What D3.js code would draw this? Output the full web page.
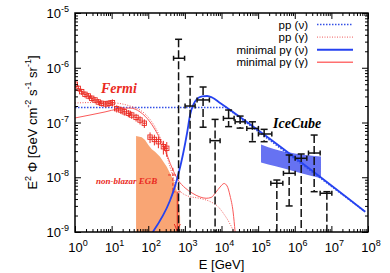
<!DOCTYPE html>
<html>
<head>
<meta charset="utf-8">
<script src="https://cdn.jsdelivr.net/npm/d3@7"></script>
<style>
  body { margin: 0; background: #fff; }
  svg { display: block; font-family: "Liberation Sans", Arial, sans-serif; }
  .serif { font-family: "Liberation Serif", "Times New Roman", serif; font-style: italic; font-weight: bold; }
</style>
</head>
<body>
<svg id="chart" width="390" height="273"></svg>
<script>
// Fermi IGRB points (GeV, GeV cm^-2 s^-1 sr^-1)
const fermiE = [1.02, 1.23, 1.52, 1.87, 2.31, 2.86, 3.52, 4.34, 5.37, 6.9, 8.49, 10.5, 13.8, 17.8, 22.2, 28.6, 35.4, 46.5, 59.7, 78.2, 112, 147, 189, 259, 320];
const fermiF = [5.0e-7, 4.2e-7, 3.66e-7, 3.27e-7, 3.05e-7, 2.77e-7, 2.58e-7, 2.37e-7, 2.24e-7, 2.18e-7, 2.24e-7, 2.3e-7, 1.79e-7, 1.69e-7, 1.57e-7, 1.47e-7, 1.37e-7, 1.24e-7, 1.11e-7, 9.7e-8, 5.4e-8, 4.9e-8, 4.46e-8, 3.61e-8, 3.38e-8];
const fermiErr = [0.14, 0.13, 0.13, 0.13, 0.13, 0.13, 0.13, 0.13, 0.13, 0.14, 0.15, 0.15, 0.15, 0.15, 0.15, 0.15, 0.15, 0.16, 0.17, 0.18, 0.22, 0.22, 0.24, 0.28, 0.3];
// last Fermi bins drawn dashed (point + upper limit)
const fermiDashE = [470, 620];
const fermiDashF = [1.1e-8, 5.4e-9];

// non-blazar EGB band (upper edge)
const egbE = [46.5, 66.4, 81.8, 100.7, 124.7, 153.5, 210, 259, 320, 394, 485, 575, 664, 740, 740];
const egbF = [5.66e-8, 5.37e-8, 4.79e-8, 3.88e-8, 3.24e-8, 2.93e-8, 2.37e-8, 1.92e-8, 1.56e-8, 1.18e-8, 8.9e-9, 6.28e-9, 4.42e-9, 1.9e-9, 1e-9];

// model curves
const ppNuE = [1, 13400, 8.37e7];
const ppNuF = [1.88e-7, 1.88e-7, 2.35e-9];
const ppGamE = [1, 3.52, 12.4, 31.8, 59.7, 98.9, 153, 210, 288, 394, 540, 740, 1148, 2600, 4887, 8072, 11780, 16140, 20750, 22900];
const ppGamF = [2.27e-7, 2.32e-7, 2.27e-7, 2.0e-7, 1.69e-7, 1.26e-7, 8.3e-8, 5.4e-8, 3.15e-8, 1.54e-8, 7.85e-9, 5.6e-9, 4.6e-9, 4.1e-9, 3.6e-9, 2.9e-9, 2.1e-9, 1.5e-9, 1.04e-9, 8e-10];
const pgNuE = [133, 1148, 1387, 1675, 2153, 2951, 4046, 5534, 9162, 8.37e7];
const pgNuF = [1e-9, 6.43e-8, 1.37e-7, 2.09e-7, 2.69e-7, 2.99e-7, 3.05e-7, 2.86e-7, 2.27e-7, 2.35e-9];
const pgGamE = [1, 2.57, 6.61, 15.0, 31.8, 59.7, 112, 185, 288, 447, 652, 1012, 1574, 2600, 3793, 5200, 7112, 9162, 11780, 14220, 17180, 20750, 23550];
const pgGamF = [1.21e-7, 1.37e-7, 1.56e-7, 1.77e-7, 1.84e-7, 1.56e-7, 1.02e-7, 5.9e-8, 3.15e-8, 1.48e-8, 8.9e-9, 6.4e-9, 5.15e-9, 4.36e-9, 4.13e-9, 4.27e-9, 5.38e-9, 6.64e-9, 7.69e-9, 6.92e-9, 4.55e-9, 2.32e-9, 1e-9];

// IceCube best-fit band
const bandE = [1.2e5, 3e5, 1e6, 5.2e6];
const bandHi = [3.96e-8, 3.2e-8, 2.72e-8, 2.39e-8];
const bandLo = [1.86e-8, 1.58e-8, 1.28e-8, 9.6e-9];

// IceCube points; Flo = 0 means the bar runs to the bottom
const icE   = [673, 1387, 3142, 6680, 15630, 32220, 69850, 145900, 324300, 703000, 1.5e6, 3.39e6, 7.53e6];
const icElo = [491, 1012, 2153, 4886, 11270, 23550, 49100, 101900, 222300, 491000, 1.026e6, 2.37e6, 4.94e6];
const icEhi = [982, 1900, 4670, 9160, 22090, 44160, 101900, 236600, 473000, 1.026e6, 2.14e6, 4.94e6, 1.03e7];
const icF   = [1.49e-6, 2.0e-7, 2.58e-7, 4.66e-8, 1.19e-7, 1.03e-7, 7.8e-8, 6.17e-8, 7.76e-9, 1.18e-8, 2.22e-8, 2.77e-8, 5.1e-9];
const icFhi = [3.31e-6, 6.87e-7, 4.45e-7, 1.14e-7, 1.69e-7, 1.31e-7, 1.03e-7, 7.5e-8, 8.9e-9, 2.55e-8, 2.66e-8, 5.9e-8, 5.45e-9];
const icFlo = [0, 0, 8.2e-8, 0, 8.4e-8, 7.9e-8, 4.46e-8, 4.46e-8, 0, 2.99e-9, 0, 5.45e-9, 0];

const xTickExp = [0, 1, 2, 3, 4, 5, 6, 7, 8];
const yTickExp = [-9, -8, -7, -6, -5];

const legendItems = [
  {label: 'pp (ν)', color: '#3450e6', dash: '1.5,1.5', width: 1.5},
  {label: 'pp (γ)', color: '#f05a5a', dash: '1,1.5', width: 1},
  {label: 'minimal pγ (ν)', color: '#2542f0', dash: null, width: 2},
  {label: 'minimal pγ (γ)', color: '#ff7070', dash: null, width: 1.5}
];

const svg = d3.select('#chart'),
      W = +svg.attr('width'),
      H = +svg.attr('height'),
      margin = {top: 13, right: 22, bottom: 41, left: 75};

const x = d3.scaleLog().domain([1, 1e8]).range([margin.left, W - margin.right]);
const y = d3.scaleLog().domain([1e-9, 1e-5]).range([H - margin.bottom, margin.top]);
const x0 = x.range()[0], x1 = x.range()[1], yb = y.range()[0], yt = y.range()[1];

svg.append('defs').append('clipPath').attr('id', 'plot')
  .append('rect').attr('x', x0).attr('y', yt).attr('width', x1 - x0).attr('height', yb - yt);

const plot = svg.append('g').attr('clip-path', 'url(#plot)');
const zip = (a, b) => a.map((v, i) => [v, b[i]]);

// EGB band
plot.append('path')
  .datum(zip(egbE, egbF))
  .attr('fill', '#f9a574')
  .attr('d', d3.area().x(d => x(d[0])).y0(yb).y1(d => y(d[1])));

// IceCube band
plot.append('path')
  .datum(bandE.map((e, i) => [e, bandLo[i], bandHi[i]]))
  .attr('fill', '#6672f2')
  .attr('d', d3.area().curve(d3.curveMonotoneX).x(d => x(d[0])).y0(d => y(d[1])).y1(d => y(d[2])));

const line = d3.line().curve(d3.curveMonotoneX).x(d => x(d[0])).y(d => y(d[1]));

plot.append('path').datum(zip(ppNuE, ppNuF)).attr('d', d3.line().x(d => x(d[0])).y(d => y(d[1])))
  .attr('fill', 'none').attr('stroke', '#3450e6').attr('stroke-width', 1.5).attr('stroke-dasharray', '1.5,1.5');
plot.append('path').datum(zip(ppGamE, ppGamF)).attr('d', line)
  .attr('fill', 'none').attr('stroke', '#f05a5a').attr('stroke-width', 1).attr('stroke-dasharray', '1,1.5');
plot.append('path').datum(zip(pgGamE, pgGamF)).attr('d', line)
  .attr('fill', 'none').attr('stroke', '#fa5a5a').attr('stroke-width', 1);

// Fermi points
const red = '#ea2a22';
const fg = plot.append('g').attr('stroke', red).attr('fill', 'none').attr('stroke-width', 1);
fermiE.forEach((e, i) => {
  const cx = x(e), cy = y(fermiF[i]);
  const f = fermiF[i], er = fermiErr[i];
  const xl = x(e / 1.1), xr = x(e * 1.1);
  fg.append('line').attr('x1', cx).attr('x2', cx).attr('y1', y(f * (1 + er))).attr('y2', y(f * (1 - er)));
  fg.append('line').attr('x1', xl).attr('x2', xr).attr('y1', cy).attr('y2', cy);
  fg.append('rect').attr('x', cx - 2.2).attr('y', cy - 2.2).attr('width', 4.4).attr('height', 4.4).attr('stroke-width', 0.9);
});
fermiDashE.forEach((e, i) => {
  const cx = x(e), cy = y(fermiDashF[i]);
  fg.append('line').attr('x1', x(e / 1.35)).attr('x2', x(e * 1.35)).attr('y1', cy).attr('y2', cy)
    .attr('stroke-dasharray', '3,2');
  if (i === 0) {
    fg.append('line').attr('x1', cx).attr('x2', cx).attr('y1', y(fermiDashF[i] * 1.35)).attr('y2', y(fermiDashF[i] * 0.45))
      .attr('stroke-dasharray', '3,2');
  } else {
    fg.append('line').attr('x1', cx).attr('x2', cx).attr('y1', cy).attr('y2', yb - 1);
    fg.append('path').attr('d', `M${cx - 3},${yb - 8}L${cx},${yb - 1}L${cx + 3},${yb - 8}`);
  }
});

plot.append('path').datum(zip(pgNuE, pgNuF)).attr('d', line)
  .attr('fill', 'none').attr('stroke', '#2542f0').attr('stroke-width', 1.8);

// IceCube points
const ig = plot.append('g').attr('stroke', '#111').attr('stroke-width', 1.5).attr('fill', 'none');
icE.forEach((e, i) => {
  const cx = x(e), cy = y(icF[i]), top = y(icFhi[i]);
  const bot = icFlo[i] > 0 ? y(icFlo[i]) : yb;
  ig.append('line').attr('x1', cx).attr('x2', cx).attr('y1', top).attr('y2', bot).attr('stroke-dasharray', '8,3');
  ig.append('line').attr('x1', cx - 3.5).attr('x2', cx + 3.5).attr('y1', top).attr('y2', top);
  if (icFlo[i] > 0) ig.append('line').attr('x1', cx - 3.5).attr('x2', cx + 3.5).attr('y1', bot).attr('y2', bot);
  const xl = x(icElo[i]), xr = x(icEhi[i]);
  ig.append('line').attr('x1', xl).attr('x2', xr).attr('y1', cy).attr('y2', cy);
  ig.append('line').attr('x1', xl).attr('x2', xl).attr('y1', cy - 2.5).attr('y2', cy + 2.5);
  ig.append('line').attr('x1', xr).attr('x2', xr).attr('y1', cy - 2.5).attr('y2', cy + 2.5);
});

// axes with inward ticks on all four sides
const xMajor = xTickExp.map(p => Math.pow(10, p));
const yMajor = yTickExp.map(p => Math.pow(10, p));
const xMinor = [], yMinor = [];
xTickExp.slice(0, -1).forEach(p => d3.range(2, 10).forEach(k => xMinor.push(k * Math.pow(10, p))));
yTickExp.slice(0, -1).forEach(p => d3.range(2, 10).forEach(k => yMinor.push(k * Math.pow(10, p))));

function ticks(axis, vals, size, transform) {
  const g = svg.append('g').attr('transform', transform)
    .call(axis.tickValues(vals).tickSize(-size).tickFormat(''));
  g.select('.domain').remove();
  g.selectAll('line').attr('stroke', '#000').attr('stroke-width', 1);
}
ticks(d3.axisBottom(x), xMajor, 6, `translate(0,${yb})`);
ticks(d3.axisBottom(x), xMinor, 3, `translate(0,${yb})`);
ticks(d3.axisTop(x), xMajor, 6, `translate(0,${yt})`);
ticks(d3.axisTop(x), xMinor, 3, `translate(0,${yt})`);
ticks(d3.axisLeft(y), yMajor, 6, `translate(${x0},0)`);
ticks(d3.axisLeft(y), yMinor, 3, `translate(${x0},0)`);
ticks(d3.axisRight(y), yMajor, 6, `translate(${x1},0)`);
ticks(d3.axisRight(y), yMinor, 3, `translate(${x1},0)`);

svg.append('rect').attr('x', x0).attr('y', yt).attr('width', x1 - x0).attr('height', yb - yt)
  .attr('fill', 'none').attr('stroke', '#000').attr('stroke-width', 1.5);

function powLabel(sel, exp) {
  sel.append('tspan').text('10');
  sel.append('tspan').attr('font-size', 9).attr('dy', -6).text(exp);
}
xTickExp.forEach(p => {
  svg.append('text').attr('x', x(Math.pow(10, p)) + 3).attr('y', yb + 20).attr('text-anchor', 'middle')
    .attr('font-size', 13).call(powLabel, p);
});
yTickExp.forEach(p => {
  svg.append('text').attr('x', x0 - 6).attr('y', y(Math.pow(10, p)) + 5).attr('text-anchor', 'end')
    .attr('font-size', 13).call(powLabel, p);
});

svg.append('text').attr('x', (x0 + x1) / 2).attr('y', H - 4).attr('text-anchor', 'middle')
  .attr('font-size', 13).text('E [GeV]');

const yl = svg.append('text').attr('text-anchor', 'middle').attr('font-size', 13)
  .attr('transform', `translate(37,${(yt + yb) / 2}) rotate(-90)`);
[['E', 0], ['2', 1], [' Φ [GeV cm', 0], ['-2', 1], [' s', 0], ['-1', 1], [' sr', 0], ['-1', 1], [']', 0]].forEach((p, i, arr) => {
  const prevSup = i > 0 && arr[i - 1][1];
  const t = yl.append('tspan').text(p[0]);
  if (p[1]) t.attr('font-size', 9).attr('dy', -6);
  else if (prevSup) t.attr('dy', 6);
});

// annotations
svg.append('text').attr('class', 'serif').attr('x', 101).attr('y', 93).attr('fill', red)
  .attr('font-size', 14).text('Fermi');
svg.append('text').attr('class', 'serif').attr('x', 273).attr('y', 128).attr('fill', '#000')
  .attr('font-size', 14).text('IceCube');
svg.append('text').attr('class', 'serif').attr('x', 96).attr('y', 184).attr('fill', red)
  .attr('font-size', 9).text('non-blazar EGB');

// legend
const lg = svg.append('g');
legendItems.forEach((d, i) => {
  const cy = 24.5 + i * 12.6;
  lg.append('text').attr('x', 308).attr('y', cy + 4).attr('text-anchor', 'end').attr('font-size', 11.5).text(d.label);
  lg.append('line').attr('x1', 317).attr('x2', 353).attr('y1', cy).attr('y2', cy)
    .attr('stroke', d.color).attr('stroke-width', d.width).attr('stroke-dasharray', d.dash);
});
</script>
</body>
</html>
